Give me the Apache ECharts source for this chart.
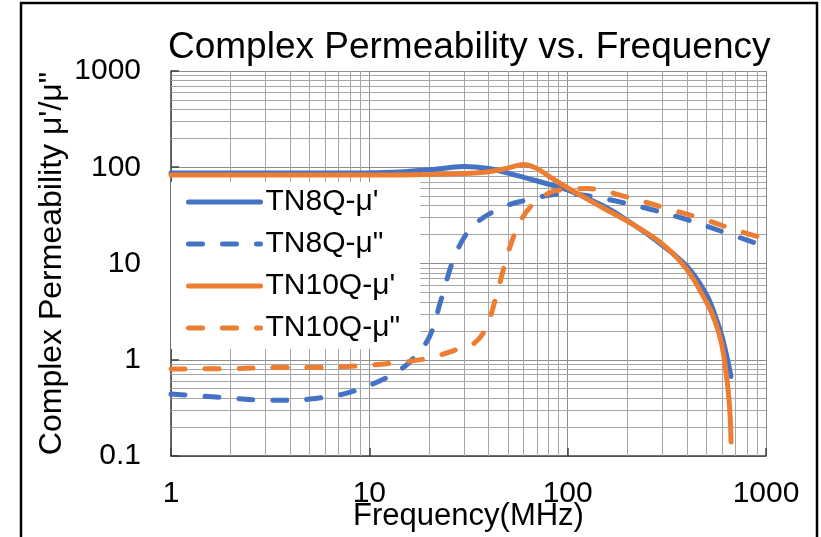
<!DOCTYPE html>
<html>
<head>
<meta charset="utf-8">
<script src="https://cdn.jsdelivr.net/npm/echarts@6/dist/echarts.min.js"></script>
<style>
html,body{margin:0;padding:0;background:#fff;}
#chart{width:821px;height:537px;}
</style>
</head>
<body>
<div id="chart"></div>
<script>
// ---- data ----
const seriesNames = ["TN8Q-μ'", 'TN8Q-μ"', "TN10Q-μ'", 'TN10Q-μ"'];

const freqTN8Qp = [1, 2, 5, 10, 15, 20, 25, 30, 40, 50, 70, 100, 150, 200, 300, 400, 500, 550, 600, 640, 666];
const valTN8Qp  = [87, 87, 87, 87.5, 90, 94, 99, 102, 97, 87, 72, 58, 40, 28, 15.5, 9.3, 4.8, 3.0, 1.75, 1.0, 0.67];

const freqTN8Qpp = [1, 1.4, 2, 3, 4, 5, 7, 8, 10, 13, 16, 20, 23, 27, 33, 45, 60, 80, 100, 130, 180, 270, 400, 600, 1000];
const valTN8Qpp  = [0.44, 0.42, 0.40, 0.38, 0.38, 0.39, 0.43, 0.46, 0.54, 0.70, 0.95, 1.7, 4.2, 12, 24, 37, 45, 51, 53, 50, 44, 36, 28.5, 21.5, 15];

const freqTN10Qp = [1, 3, 10, 20, 30, 40, 50, 60, 70, 80, 100, 150, 200, 300, 400, 500, 550, 600, 640, 660, 666];
const valTN10Qp  = [83, 83, 83, 84, 86, 90, 98, 107, 97, 81, 61, 38, 27.5, 16, 8.6, 4.0, 2.6, 1.4, 0.55, 0.25, 0.14];

const freqTN10Qpp = [1, 2, 3.5, 5.5, 8.5, 13, 20, 27, 34, 39, 44, 50, 56, 65, 82, 100, 126, 200, 320, 470, 700, 1000];
const valTN10Qpp  = [0.80, 0.81, 0.83, 0.83, 0.86, 0.92, 1.04, 1.26, 1.5, 2.2, 4.9, 12.8, 24, 39, 55, 59, 60, 49, 37, 29.5, 22.3, 18];

const xMinorGrid = [2,3,4,5,6,7,8,9,20,30,40,50,60,70,80,90,200,300,400,500,600,700,800,900];
const yMinorGrid = [0.2,0.3,0.4,0.5,0.6,0.7,0.8,0.9,2,3,4,5,6,7,8,9,20,30,40,50,60,70,80,90,200,300,400,500,600,700,800,900];

const titleText = 'Complex Permeability vs. Frequency';
const xName = 'Frequency(MHz)';
const yName = 'Complex Permeability μ\'/μ"';

// ---- build ----
const FONT = 'Liberation Sans, Arial, sans-serif';
const BLUE = '#4472C4', ORANGE = '#ED7D31';
function pairs(xs, ys){ return xs.map((x,i)=>[x, ys[i]]); }
function fmt(v){ return String(Math.round(v*1000)/1000); }

const lineBase = {type:'line', showSymbol:false, symbol:'none', smooth:0.35, animation:false, z:3};
const dash = [14, 20];

const chart = echarts.init(document.getElementById('chart'), null, {renderer:'canvas'});
chart.setOption({
  backgroundColor:'#fff',
  animation:false,
  title:{text:titleText, left:168, top:29, padding:0,
    textStyle:{fontFamily:FONT, fontSize:37, fontWeight:'normal', color:'#000'}},
  grid:{left:171, right:55, top:71, bottom:81, containLabel:false, outerBoundsMode:'none'},
  xAxis:{type:'log', logBase:10, min:1, max:1000,
    name:xName, nameLocation:'middle', nameGap:45, nameMoveOverlap:false,
    nameTextStyle:{fontFamily:FONT, fontSize:31, color:'#000'},
    axisLine:{show:true, lineStyle:{color:'#404040', width:1.5}},
    axisTick:{show:true, inside:true, length:8, lineStyle:{color:'#404040', width:1.5}},
    axisLabel:{fontFamily:FONT, fontSize:30, color:'#000', margin:23, formatter:fmt},
    splitLine:{show:true, lineStyle:{color:'#8c8c8c', width:1}},
    minorTick:{show:false}, minorSplitLine:{show:false}},
  yAxis:{type:'log', logBase:10, min:0.1, max:1000,
    name:yName, nameLocation:'middle', nameGap:103, nameRotate:90, nameMoveOverlap:false,
    nameTextStyle:{fontFamily:FONT, fontSize:32, color:'#000'},
    axisLine:{show:true, lineStyle:{color:'#404040', width:1.5}},
    axisTick:{show:true, inside:true, length:8, lineStyle:{color:'#404040', width:1.5}},
    axisLabel:{fontFamily:FONT, fontSize:30, color:'#000', margin:30, formatter:fmt},
    splitLine:{show:true, lineStyle:{color:'#8c8c8c', width:1}},
    minorTick:{show:false}, minorSplitLine:{show:false}},
  legend:{data:seriesNames, orient:'vertical', left:171, top:182, z:20,
    backgroundColor:'#fff', padding:[3,20,4,15], itemGap:8,
    itemWidth:72, itemHeight:14,
    itemStyle:{opacity:0},
    lineStyle:{width:5, cap:'round'},
    textStyle:{fontFamily:FONT, fontSize:30, color:'#000', lineHeight:34}},
  graphic:[{type:'rect', shape:{x:21, y:3, width:796, height:600},
    style:{fill:null, stroke:'#000', lineWidth:2.5}, silent:true, z:100}],
  series:[
    {type:'line', data:[], silent:true, z:1, animation:false,
      markLine:{silent:true, z:1, symbol:['none','none'], label:{show:false}, animation:false,
        lineStyle:{color:'#a6a6a6', type:'solid', width:1},
        data: xMinorGrid.map(v=>({xAxis:v})).concat(yMinorGrid.map(v=>({yAxis:v})))}},
    Object.assign({}, lineBase, {name:seriesNames[0], data:pairs(freqTN8Qp, valTN8Qp),
      lineStyle:{color:BLUE, width:5, cap:'round'}, itemStyle:{color:BLUE}}),
    Object.assign({}, lineBase, {name:seriesNames[1], data:pairs(freqTN8Qpp, valTN8Qpp),
      lineStyle:{color:BLUE, width:5, type:dash, cap:'round'}, itemStyle:{color:BLUE}}),
    Object.assign({}, lineBase, {name:seriesNames[2], data:pairs(freqTN10Qp, valTN10Qp),
      lineStyle:{color:ORANGE, width:5, cap:'round'}, itemStyle:{color:ORANGE}}),
    Object.assign({}, lineBase, {name:seriesNames[3], data:pairs(freqTN10Qpp, valTN10Qpp),
      lineStyle:{color:ORANGE, width:5, type:dash, cap:'round'}, itemStyle:{color:ORANGE}})
  ]
});
</script>
</body>
</html>
